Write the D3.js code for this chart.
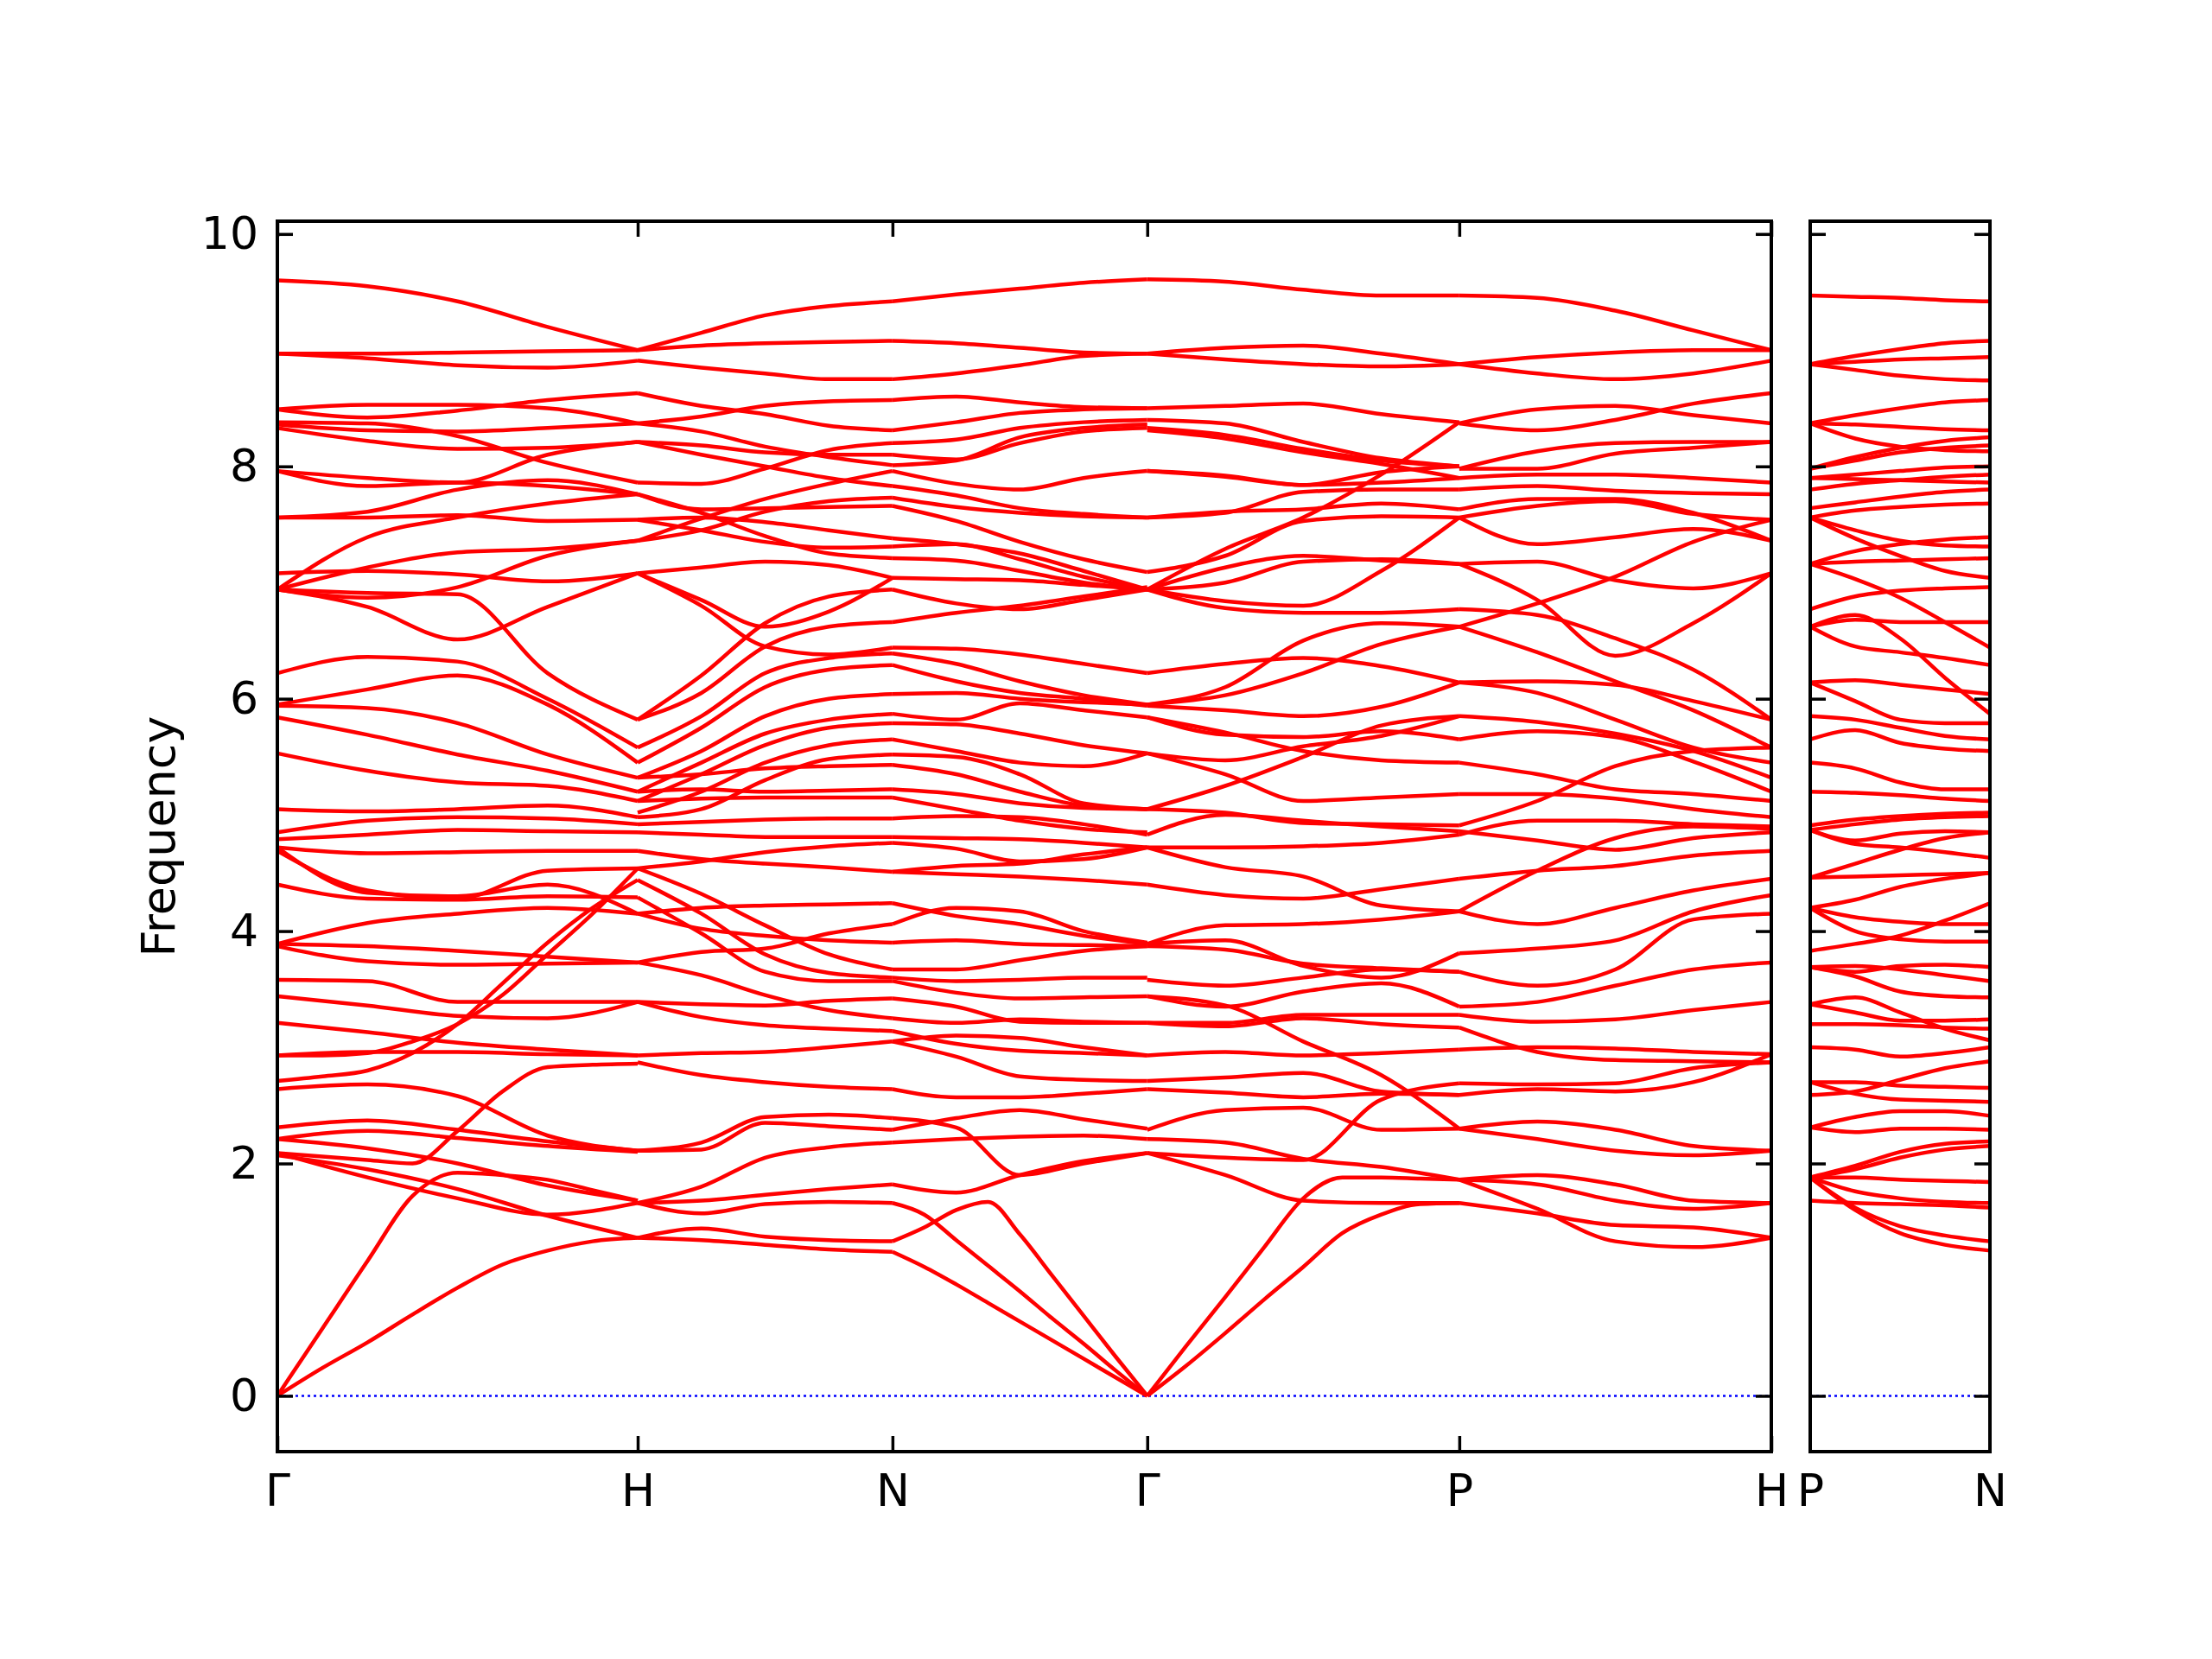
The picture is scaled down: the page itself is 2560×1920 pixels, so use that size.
<!DOCTYPE html>
<html>
<head>
<meta charset="utf-8">
<title>Phonon band structure</title>
<script src="https://cdn.jsdelivr.net/npm/d3@7"></script>
<style>
    body {
        margin: 0;
        padding: 0;
        background-color: white;
    }
    text {
        font-family: "DejaVu Sans", sans-serif;
    }
</style>
</head>
<body>
<svg id="chart" width="2560" height="1920"></svg>
<script>
// path lengths of the segments G-H, H-N, N-G, G-P, P-H and of the separate P-N piece
const segLengths = [1, 0.7071, 0.7071, 0.8660, 0.8660];
const pnLength = 0.5;
const mainLabels = ["Γ", "H", "N", "Γ", "P", "H"];
const sideLabels = ["P", "N"];
const yTicks = [0, 2, 4, 6, 8, 10];

// each band: frequencies read at evenly spaced points along the segment
const bandsGH = [
    [9.60, 9.55, 9.42, 9.20, 9.00], [8.97, 8.97, 8.98, 8.99, 9.00], [8.97, 8.93, 8.87, 8.85, 8.91],
    [8.49, 8.53, 8.53, 8.50, 8.37], [8.49, 8.42, 8.48, 8.57, 8.63], [8.38, 8.37, 8.26, 8.03, 7.86],
    [8.33, 8.22, 8.15, 8.16, 8.21], [8.36, 8.31, 8.30, 8.33, 8.37], [7.96, 7.90, 7.86, 8.10, 8.21],
    [7.96, 7.83, 7.86, 7.83, 7.76], [7.56, 7.56, 7.58, 7.53, 7.54], [7.56, 7.61, 7.80, 7.88, 7.76],
    [7.08, 7.10, 7.07, 7.01, 7.08], [6.94, 7.39, 7.56, 7.68, 7.76], [6.94, 7.13, 7.26, 7.29, 7.36],
    [6.94, 6.91, 6.90, 6.22, 5.82], [6.94, 6.79, 6.51, 6.79, 7.08], [6.94, 6.87, 6.96, 7.23, 7.36],
    [6.22, 6.36, 6.32, 6.00, 5.58], [5.95, 6.08, 6.20, 5.95, 5.45], [5.94, 5.92, 5.79, 5.52, 5.32],
    [5.84, 5.69, 5.52, 5.38, 5.20], [5.53, 5.38, 5.28, 5.25, 5.12], [5.05, 5.03, 5.05, 5.08, 4.98],
    [4.85, 4.95, 4.98, 4.97, 4.92], [4.79, 4.83, 4.87, 4.86, 4.85], [4.72, 4.67, 4.68, 4.69, 4.69],
    [4.69, 4.35, 4.28, 4.52, 4.54], [4.72, 4.33, 4.30, 4.40, 4.15], [4.40, 4.28, 4.27, 4.30, 4.29],
    [3.89, 4.07, 4.15, 4.20, 4.15], [3.89, 3.87, 3.83, 3.78, 3.73], [3.87, 3.74, 3.71, 3.72, 3.73],
    [3.58, 3.57, 3.39, 3.39, 3.39], [3.44, 3.36, 3.27, 3.25, 3.39], [3.21, 3.13, 3.04, 2.98, 2.93],
    [2.93, 2.96, 2.96, 2.94, 2.93],
    [2.71, 2.75, 2.80, 2.95, 3.20, 3.55, 3.90, 4.20, 4.44],
    [2.93, 2.93, 2.95, 3.05, 3.20, 3.45, 3.80, 4.15, 4.54],
    [2.64, 2.68, 2.58, 2.24, 2.11], [2.31, 2.37, 2.29, 2.19, 2.11], [2.21, 2.13, 2.00, 1.81, 1.68],
    [2.09, 1.88, 1.70, 1.56, 1.66], [2.07, 1.95, 1.78, 1.55, 1.36], [2.21, 2.28, 2.22, 2.15, 2.10],
    [2.09, 2.06, 2.03, 2.00, 2.28, 2.62, 2.83, 2.85, 2.86],
    [0, 0.58, 1.16, 1.72, 1.92, 1.90, 1.86, 1.77, 1.68],
    [0, 0.24, 0.46, 0.70, 0.93, 1.13, 1.25, 1.33, 1.36]
];

const bandsHN = [
    [9.00, 9.15, 9.30, 9.38, 9.42], [9.00, 9.04, 9.06, 9.07, 9.08], [8.91, 8.85, 8.80, 8.75, 8.75],
    [8.63, 8.52, 8.45, 8.35, 8.31], [8.37, 8.43, 8.52, 8.56, 8.57],
    [8.37, 8.30, 8.17, 8.08, 8.01], [8.21, 8.18, 8.12, 8.10, 8.10], [8.21, 8.10, 8.00, 7.90, 7.83],
    [7.86, 7.85, 7.98, 8.14, 8.20], [7.76, 7.63, 7.64, 7.65, 7.66], [7.54, 7.56, 7.52, 7.45, 7.38],
    [7.36, 7.45, 7.61, 7.70, 7.73], [7.36, 7.55, 7.72, 7.85, 7.96], [7.08, 7.13, 7.18, 7.15, 7.04],
    [7.54, 7.45, 7.35, 7.30, 7.31], [7.76, 7.60, 7.40, 7.25, 7.21],
    [7.08, 6.85, 6.62, 6.75, 7.04], [7.08, 6.80, 6.45, 6.38, 6.44], [5.82, 6.05, 6.45, 6.62, 6.66],
    [5.82, 6.20, 6.65, 6.88, 6.94], [5.58, 5.85, 6.22, 6.35, 6.39], [5.45, 5.75, 6.10, 6.25, 6.29],
    [5.32, 5.55, 5.85, 6.00, 6.04], [5.20, 5.45, 5.70, 5.82, 5.87], [5.12, 5.35, 5.60, 5.75, 5.79],
    [5.02, 5.20, 5.45, 5.60, 5.65], [4.98, 5.05, 5.30, 5.48, 5.52], [5.32, 5.35, 5.40, 5.42, 5.43],
    [5.20, 5.22, 5.20, 5.21, 5.22], [5.12, 5.14, 5.15, 5.15, 5.15],
    [4.92, 4.94, 4.96, 4.97, 4.97], [4.85, 4.83, 4.81, 4.81, 4.81], [4.69, 4.62, 4.58, 4.55, 4.51],
    [4.54, 4.60, 4.68, 4.73, 4.76], [4.54, 4.32, 4.05, 3.80, 3.67], [4.44, 4.15, 3.80, 3.64, 3.60],
    [4.29, 3.98, 3.65, 3.57, 3.57], [4.15, 4.02, 3.96, 3.92, 3.90], [4.15, 4.20, 4.22, 4.23, 4.24],
    [3.73, 3.82, 3.85, 3.98, 4.06], [3.73, 3.62, 3.45, 3.32, 3.25], [3.39, 3.37, 3.36, 3.40, 3.42],
    [3.39, 3.26, 3.19, 3.16, 3.14], [2.93, 2.95, 2.96, 3.00, 3.05], [2.87, 2.76, 2.70, 2.66, 2.64],
    [2.11, 2.18, 2.40, 2.42, 2.39], [2.11, 2.12, 2.35, 2.32, 2.29], [1.66, 1.80, 2.05, 2.14, 2.18],
    [1.66, 1.68, 1.73, 1.78, 1.82], [1.66, 1.57, 1.65, 1.67, 1.66], [1.36, 1.44, 1.37, 1.34, 1.33],
    [1.36, 1.34, 1.30, 1.26, 1.24]
];

const bandsNG = [
    [9.42, 9.48, 9.53, 9.58, 9.61], [9.08, 9.06, 9.02, 8.98, 8.97], [8.75, 8.80, 8.87, 8.95, 8.97],
    [8.57, 8.60, 8.55, 8.51, 8.50], [8.31, 8.38, 8.46, 8.49, 8.50], [8.20, 8.23, 8.33, 8.38, 8.40],
    [8.10, 8.06, 8.20, 8.30, 8.33], [8.01, 8.05, 8.25, 8.33, 8.36], [7.96, 7.85, 7.80, 7.90, 7.96],
    [7.83, 7.75, 7.64, 7.59, 7.56], [7.73, 7.65, 7.60, 7.57, 7.56], [7.66, 7.53, 7.35, 7.20, 7.09],
    [7.38, 7.33, 7.25, 7.10, 6.94], [7.31, 7.33, 7.20, 7.05, 6.94], [7.21, 7.19, 7.10, 7.00, 6.94],
    [7.04, 7.03, 7.02, 6.98, 6.94], [6.94, 6.82, 6.77, 6.85, 6.94], [6.66, 6.74, 6.80, 6.88, 6.96],
    [6.44, 6.43, 6.38, 6.30, 6.22], [6.39, 6.30, 6.15, 6.03, 5.95], [6.29, 6.15, 6.05, 6.00, 5.94],
    [6.04, 6.05, 6.00, 5.97, 5.95], [5.87, 5.82, 5.96, 5.90, 5.84], [5.79, 5.78, 5.70, 5.60, 5.53],
    [5.65, 5.55, 5.45, 5.42, 5.53], [5.52, 5.50, 5.35, 5.10, 5.05], [5.43, 5.35, 5.20, 5.08, 5.05],
    [5.22, 5.18, 5.10, 5.06, 5.05], [5.15, 5.05, 4.95, 4.88, 4.85],
    [4.97, 4.99, 4.98, 4.92, 4.83], [4.81, 4.80, 4.79, 4.76, 4.72], [4.76, 4.71, 4.60, 4.62, 4.72],
    [4.51, 4.56, 4.58, 4.66, 4.72], [4.51, 4.49, 4.47, 4.44, 4.40], [4.24, 4.13, 4.06, 3.96, 3.89],
    [4.06, 4.20, 4.17, 4.00, 3.90], [3.90, 3.92, 3.89, 3.88, 3.87], [3.67, 3.67, 3.75, 3.83, 3.87],
    [3.60, 3.57, 3.58, 3.60, 3.60], [3.57, 3.47, 3.42, 3.43, 3.44], [3.42, 3.35, 3.22, 3.21, 3.21],
    [3.25, 3.21, 3.24, 3.22, 3.21], [3.14, 3.03, 2.97, 2.95, 2.93], [3.05, 3.10, 3.08, 3.00, 2.93],
    [3.05, 2.92, 2.75, 2.72, 2.71], [2.64, 2.57, 2.57, 2.60, 2.64], [2.39, 2.31, 1.90, 2.00, 2.09],
    [2.29, 2.39, 2.46, 2.38, 2.30], [2.18, 2.21, 2.23, 2.24, 2.21], [1.82, 1.75, 1.90, 2.02, 2.09],
    [1.24, 1.11, 0.96, 0.80, 0.64, 0.48, 0.32, 0.16, 0],
    [1.66, 1.56, 1.34, 1.12, 0.90, 0.67, 0.45, 0.22, 0],
    [1.33, 1.45, 1.60, 1.67, 1.39, 1.04, 0.69, 0.34, 0]
];

const bandsGP = [
    [9.61, 9.59, 9.52, 9.47, 9.47], [8.97, 9.02, 9.04, 8.97, 8.88], [8.97, 8.92, 8.88, 8.86, 8.88],
    [8.50, 8.52, 8.54, 8.45, 8.38], [8.40, 8.37, 8.21, 8.07, 8.00], [8.33, 8.27, 8.15, 8.05, 8.00],
    [8.31, 8.24, 8.12, 8.02, 7.90], [7.96, 7.92, 7.84, 7.95, 8.00], [7.96, 7.91, 7.84, 7.86, 7.90],
    [7.56, 7.61, 7.63, 7.68, 7.63], [7.56, 7.60, 7.78, 7.80, 7.80], [7.09, 7.23, 7.53, 7.57, 7.56],
    [6.94, 7.29, 7.56, 7.93, 8.38], [6.94, 7.13, 7.23, 7.19, 7.16], [6.94, 6.84, 6.80, 7.10, 7.56],
    [6.94, 6.78, 6.74, 6.74, 6.77], [6.94, 7.00, 7.18, 7.20, 7.16], [6.22, 6.30, 6.35, 6.28, 6.14],
    [5.95, 6.10, 6.50, 6.65, 6.62], [5.95, 6.03, 6.22, 6.47, 6.62], [5.94, 5.90, 5.85, 5.93, 6.14],
    [5.84, 5.69, 5.67, 5.72, 5.65], [5.84, 5.71, 5.55, 5.47, 5.45], [5.53, 5.47, 5.59, 5.68, 5.85],
    [5.53, 5.35, 5.12, 5.15, 5.18], [5.05, 5.25, 5.50, 5.77, 5.85], [5.05, 5.02, 4.93, 4.92, 4.91],
    [4.83, 5.00, 4.95, 4.90, 4.86], [4.72, 4.72, 4.73, 4.76, 4.83], [4.72, 4.55, 4.47, 4.22, 4.17],
    [4.40, 4.31, 4.28, 4.36, 4.45], [3.89, 4.05, 4.06, 4.10, 4.17], [3.89, 3.92, 3.70, 3.60, 3.81],
    [3.87, 3.84, 3.72, 3.68, 3.65], [3.58, 3.53, 3.60, 3.67, 3.65], [3.44, 3.35, 3.48, 3.55, 3.35],
    [3.21, 3.21, 3.28, 3.28, 3.28], [3.21, 3.18, 3.25, 3.20, 3.17], [3.44, 3.36, 3.05, 2.76, 2.30],
    [2.93, 2.96, 2.93, 2.95, 2.98], [2.71, 2.74, 2.78, 2.62, 2.59], [2.64, 2.61, 2.57, 2.60, 2.59],
    [2.29, 2.46, 2.48, 2.29, 2.30], [2.21, 2.18, 2.04, 1.97, 1.86], [2.09, 2.05, 2.03, 2.55, 2.69],
    [2.09, 1.90, 1.68, 1.66, 1.66],
    [0, 0.43, 0.85, 1.28, 1.70, 1.88, 1.88, 1.87, 1.86],
    [0, 0.26, 0.54, 0.83, 1.11, 1.40, 1.56, 1.65, 1.66]
];

const bandsPH = [
    [9.47, 9.45, 9.34, 9.17, 9.00], [8.88, 8.94, 8.98, 9.00, 9.00], [8.88, 8.80, 8.75, 8.80, 8.91],
    [8.37, 8.49, 8.52, 8.44, 8.37], [8.37, 8.31, 8.40, 8.54, 8.63], [7.98, 8.13, 8.20, 8.21, 8.21],
    [7.98, 7.98, 8.11, 8.16, 8.21], [7.90, 7.93, 7.93, 7.90, 7.86], [7.80, 7.83, 7.79, 7.77, 7.76],
    [7.63, 7.72, 7.72, 7.60, 7.36], [7.56, 7.33, 7.39, 7.46, 7.36], [7.56, 7.66, 7.70, 7.59, 7.54],
    [7.16, 7.18, 7.02, 6.95, 7.08], [7.16, 6.85, 6.37, 6.65, 7.08], [6.77, 6.72, 6.52, 6.25, 5.82],
    [6.62, 6.82, 7.05, 7.35, 7.54], [6.62, 6.40, 6.15, 5.90, 5.58], [6.14, 6.15, 6.12, 5.98, 5.82],
    [6.14, 6.05, 5.82, 5.58, 5.45], [5.85, 5.80, 5.70, 5.55, 5.32], [5.65, 5.72, 5.67, 5.46, 5.20],
    [5.45, 5.35, 5.22, 5.18, 5.12], [5.18, 5.18, 5.14, 5.05, 4.98], [4.91, 5.12, 5.42, 5.55, 5.58],
    [4.86, 4.78, 4.70, 4.80, 4.85], [4.83, 4.95, 4.95, 4.92, 4.90], [4.45, 4.52, 4.56, 4.65, 4.69],
    [4.17, 4.52, 4.80, 4.90, 4.88], [4.17, 4.06, 4.20, 4.35, 4.45], [3.81, 3.85, 3.92, 4.17, 4.31],
    [3.65, 3.53, 3.67, 4.10, 4.15], [3.35, 3.39, 3.53, 3.67, 3.73], [3.28, 3.22, 3.24, 3.32, 3.39],
    [3.17, 2.96, 2.89, 2.88, 2.87], [2.98, 3.00, 2.99, 2.96, 2.94], [2.69, 2.68, 2.69, 2.82, 2.87],
    [2.59, 2.64, 2.62, 2.70, 2.94], [2.30, 2.36, 2.29, 2.15, 2.11], [2.30, 2.21, 2.11, 2.07, 2.11],
    [1.86, 1.90, 1.82, 1.68, 1.66], [1.86, 1.82, 1.68, 1.61, 1.66], [1.66, 1.57, 1.47, 1.45, 1.36],
    [1.86, 1.61, 1.33, 1.28, 1.36]
];

const bandsPN = [
    [9.47, 9.46, 9.45, 9.43, 9.42], [8.88, 8.95, 9.01, 9.06, 9.08], [8.88, 8.90, 8.92, 8.93, 8.94],
    [8.88, 8.83, 8.78, 8.75, 8.74], [8.37, 8.44, 8.50, 8.55, 8.57], [8.37, 8.36, 8.34, 8.32, 8.31],
    [8.37, 8.24, 8.17, 8.14, 8.13], [7.98, 8.08, 8.16, 8.22, 8.25], [7.98, 8.05, 8.12, 8.16, 8.18],
    [7.90, 7.93, 7.96, 7.99, 8.00], [7.90, 7.89, 7.88, 7.87, 7.86], [7.80, 7.85, 7.88, 7.91, 7.93],
    [7.64, 7.69, 7.74, 7.78, 7.80], [7.56, 7.62, 7.65, 7.67, 7.68], [7.56, 7.38, 7.23, 7.10, 7.04],
    [7.56, 7.45, 7.36, 7.32, 7.31], [7.16, 7.27, 7.33, 7.37, 7.39], [7.16, 7.18, 7.19, 7.20, 7.21],
    [7.16, 7.03, 6.87, 6.66, 6.44], [6.77, 6.88, 6.93, 6.95, 6.96], [6.62, 6.68, 6.66, 6.66, 6.66],
    [6.62, 6.45, 6.40, 6.35, 6.29], [6.62, 6.72, 6.52, 6.18, 5.87], [6.14, 6.16, 6.12, 6.08, 6.04],
    [6.14, 5.98, 5.82, 5.79, 5.79], [5.85, 5.82, 5.75, 5.68, 5.65], [5.65, 5.73, 5.62, 5.57, 5.55],
    [5.45, 5.40, 5.28, 5.22, 5.22], [5.20, 5.19, 5.17, 5.14, 5.12], [4.91, 4.96, 4.99, 5.01, 5.02],
    [4.87, 4.92, 4.96, 4.98, 4.99], [4.87, 4.78, 4.84, 4.86, 4.85], [4.87, 4.75, 4.72, 4.68, 4.63],
    [4.46, 4.58, 4.70, 4.80, 4.85], [4.46, 4.47, 4.48, 4.49, 4.50], [4.20, 4.27, 4.38, 4.45, 4.50],
    [4.20, 4.12, 4.08, 4.06, 4.06], [4.20, 4.00, 3.93, 3.91, 3.91], [3.83, 3.89, 3.96, 4.09, 4.24],
    [3.69, 3.65, 3.70, 3.71, 3.69], [3.69, 3.61, 3.48, 3.44, 3.43], [3.69, 3.70, 3.67, 3.62, 3.57],
    [3.37, 3.30, 3.23, 3.23, 3.24], [3.37, 3.43, 3.30, 3.16, 3.06], [3.20, 3.20, 3.19, 3.17, 3.16],
    [3.00, 2.98, 2.92, 2.95, 3.00], [2.70, 2.70, 2.67, 2.66, 2.65], [2.70, 2.60, 2.55, 2.54, 2.53],
    [2.59, 2.62, 2.72, 2.82, 2.88], [2.31, 2.40, 2.45, 2.45, 2.41], [2.31, 2.27, 2.30, 2.30, 2.29],
    [1.88, 1.98, 2.10, 2.17, 2.19], [1.88, 1.88, 1.86, 1.85, 1.84], [1.88, 1.76, 1.70, 1.67, 1.66],
    [1.68, 1.66, 1.65, 1.64, 1.62], [1.88, 1.62, 1.46, 1.38, 1.33], [1.88, 1.60, 1.40, 1.30, 1.25],
    [1.88, 1.95, 2.05, 2.12, 2.15]
];

const mainSegments = [bandsGH, bandsHN, bandsNG, bandsGP, bandsPH];

const svg = d3.select("#chart");
const fontSize = 52;

const plotTop = 256, plotBottom = 1680;
const mainLeft = 321, mainRight = 2050;
const sideLeft = 2095, sideRight = 2303;

const y = d3.scaleLinear().domain([-0.48, 10.11]).range([plotBottom, plotTop]);

// cumulative positions of the high-symmetry points
const tickPos = [0];
segLengths.forEach(l => tickPos.push(tickPos[tickPos.length - 1] + l));

const xMain = d3.scaleLinear().domain([0, tickPos[tickPos.length - 1]]).range([mainLeft, mainRight]);
const xSide = d3.scaleLinear().domain([0, pnLength]).range([sideLeft, sideRight]);

svg.append("rect").attr("width", 2560).attr("height", 1920).attr("fill", "white");

// zero line
[[xMain, 0, tickPos[tickPos.length - 1]], [xSide, 0, pnLength]].forEach(([x, a, b]) => {
    svg.append("line")
        .attr("x1", x(a)).attr("x2", x(b))
        .attr("y1", y(0)).attr("y2", y(0))
        .attr("stroke", "#0000ff")
        .attr("stroke-width", 2.5)
        .attr("stroke-dasharray", "3,4");
});

const line = d3.line().curve(d3.curveMonotoneX);

function drawSegment(bands, x, start, len) {
    svg.append("g")
        .selectAll("path")
        .data(bands)
        .join("path")
        .attr("d", b => line(b.map((v, i) => [x(start + len * i / (b.length - 1)), y(v)])))
        .attr("fill", "none")
        .attr("stroke", "#ff0000")
        .attr("stroke-width", 4.5)
        .attr("stroke-linejoin", "round");
}

mainSegments.forEach((bands, i) => drawSegment(bands, xMain, tickPos[i], segLengths[i]));
drawSegment(bandsPN, xSide, 0, pnLength);

function styleAxis(g) {
    g.select(".domain").remove();
    g.selectAll(".tick line").attr("stroke", "black").attr("stroke-width", 3.5);
    g.selectAll("text")
        .attr("font-family", "'DejaVu Sans', sans-serif")
        .attr("font-size", fontSize)
        .attr("fill", "black");
}

// main panel axes
svg.append("g")
    .attr("transform", `translate(${mainLeft},0)`)
    .call(d3.axisLeft(y).tickValues(yTicks).tickSize(-18).tickPadding(22))
    .call(styleAxis);
svg.append("g")
    .attr("transform", `translate(${mainRight},0)`)
    .call(d3.axisRight(y).tickValues(yTicks).tickSize(-18).tickFormat(""))
    .call(styleAxis);
svg.append("g")
    .attr("transform", `translate(0,${plotBottom})`)
    .call(d3.axisBottom(xMain).tickValues(tickPos).tickSize(-18).tickPadding(26)
        .tickFormat((d, i) => mainLabels[i]))
    .call(styleAxis);
svg.append("g")
    .attr("transform", `translate(0,${plotTop})`)
    .call(d3.axisTop(xMain).tickValues(tickPos).tickSize(-18).tickFormat(""))
    .call(styleAxis);

// side panel axes
svg.append("g")
    .attr("transform", `translate(${sideLeft},0)`)
    .call(d3.axisLeft(y).tickValues(yTicks).tickSize(-18).tickFormat(""))
    .call(styleAxis);
svg.append("g")
    .attr("transform", `translate(${sideRight},0)`)
    .call(d3.axisRight(y).tickValues(yTicks).tickSize(-18).tickFormat(""))
    .call(styleAxis);
svg.append("g")
    .attr("transform", `translate(0,${plotBottom})`)
    .call(d3.axisBottom(xSide).tickValues([0, pnLength]).tickSize(0).tickPadding(26)
        .tickFormat((d, i) => sideLabels[i]))
    .call(styleAxis);

// frames
[[mainLeft, mainRight], [sideLeft, sideRight]].forEach(([l, r]) => {
    svg.append("rect")
        .attr("x", l).attr("y", plotTop)
        .attr("width", r - l).attr("height", plotBottom - plotTop)
        .attr("fill", "none")
        .attr("stroke", "black")
        .attr("stroke-width", 4);
});

svg.append("text")
    .attr("transform", `translate(183,${(plotTop + plotBottom) / 2}) rotate(-90)`)
    .attr("text-anchor", "middle")
    .attr("dy", "0.35em")
    .attr("font-size", 54)
    .attr("fill", "black")
    .text("Frequency");
</script>
</body>
</html>
